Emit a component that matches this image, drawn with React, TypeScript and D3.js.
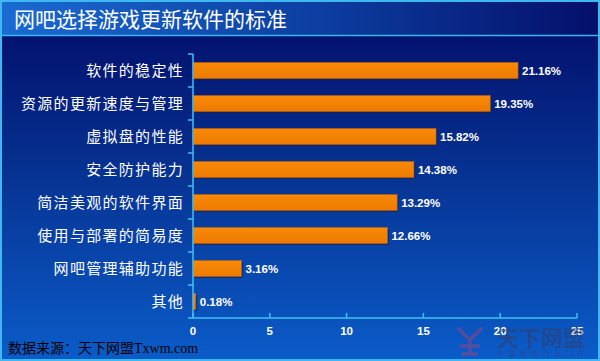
import React from "react";
import * as d3 from "d3";

const categories = [
  "软件的稳定性",
  "资源的更新速度与管理",
  "虚拟盘的性能",
  "安全防护能力",
  "简洁美观的软件界面",
  "使用与部署的简易度",
  "网吧管理辅助功能",
  "其他",
];
const values = [21.16, 19.35, 15.82, 14.38, 13.29, 12.66, 3.16, 0.18];
const xTicks = [0, 5, 10, 15, 20, 25];
const title = "网吧选择游戏更新软件的标准";
const source = "数据来源：天下网盟Txwm.com";

const W = 600;
const H = 361;
const m = { left: 193, right: 577, top: 54, bottom: 318 };

export default function App() {
  const x = d3.scaleLinear().domain([0, 25]).range([m.left, m.right]);
  const y = d3.scaleBand().domain(categories).range([m.top, m.bottom]).paddingInner(0.52).paddingOuter(0.26);
  const band = d3.scaleBand().domain(categories).range([m.top, m.bottom]);
  const bh = y.bandwidth();
  return (
    <svg width={W} height={H} style={{ position: "fixed", left: 0, top: 0 }} xmlns="http://www.w3.org/2000/svg">
      <defs>
        <linearGradient id="bodyG" x1="0" y1="0" x2="0" y2="1">
          <stop offset="0" stopColor="#020a66" />
          <stop offset="0.45" stopColor="#06308f" />
          <stop offset="1" stopColor="#0b5cc9" />
        </linearGradient>
        <linearGradient id="headG" x1="0" y1="0" x2="1" y2="0">
          <stop offset="0" stopColor="#1a6bd2" />
          <stop offset="0.55" stopColor="#0c3c9e" />
          <stop offset="1" stopColor="#050f6a" />
        </linearGradient>
        <linearGradient id="barG" x1="0" y1="0" x2="0" y2="1">
          <stop offset="0" stopColor="#f88a08" />
          <stop offset="1" stopColor="#ec7a00" />
        </linearGradient>
      </defs>
      <rect x={0} y={0} width={W} height={H} fill="url(#bodyG)" />
      <rect x={0} y={0} width={W} height={35} fill="url(#headG)" />
      <line x1={0} x2={W} y1={35.5} y2={35.5} stroke="#3bb6ee" strokeWidth={1.5} />
      <rect x={1} y={1} width={W - 2} height={H - 2} fill="none" stroke="#3fb8f0" strokeWidth={2} />
      <text x={14} y={27} fill="#ffffff" fontSize={21} fontFamily="'Noto Sans CJK SC', sans-serif">{title}</text>

      {categories.map((c, i) => (
        <g key={c}>
          <rect x={x(0) + 1.5} y={(y(c) as number) + 1.5} width={Math.max(x(values[i]) - x(0), 2)} height={bh} fill="#1a1f4a" opacity={0.7} />
          <rect x={x(0)} y={y(c) as number} width={Math.max(x(values[i]) - x(0), 2)} height={bh} fill="url(#barG)" stroke="#c86400" strokeWidth={0.6} />
          <text x={x(values[i]) + 4} y={(y(c) as number) + bh / 2 + 4} fill="#ffffff" fontSize={11.5} fontWeight="bold" fontFamily="'Liberation Sans', Arial, sans-serif">
            {values[i].toFixed(2)}%
          </text>
          <text x={184} y={(y(c) as number) + bh / 2 + 5.5} fill="#ffffff" fontSize={15} letterSpacing={1.3} textAnchor="end" fontFamily="'Noto Sans CJK SC', sans-serif">
            {c}
          </text>
        </g>
      ))}

      {/* y axis */}
      <line x1={m.left} x2={m.left} y1={m.top} y2={m.bottom} stroke="#3fc0f5" strokeWidth={1.5} />
      {[...categories.map((c) => band(c) as number), m.bottom].map((t, i) => (
        <line key={i} x1={m.left - 5} x2={m.left} y1={t} y2={t} stroke="#3fc0f5" strokeWidth={1.5} />
      ))}
      {/* x axis */}
      <line x1={m.left} x2={m.right} y1={m.bottom} y2={m.bottom} stroke="#3fc0f5" strokeWidth={1.5} />
      {xTicks.map((t) => (
        <g key={t}>
          <line x1={x(t)} x2={x(t)} y1={m.bottom - 5} y2={m.bottom} stroke="#3fc0f5" strokeWidth={1.5} />
          <text x={x(t)} y={m.bottom + 17} fill="#ffffff" fontSize={11.5} fontWeight="bold" textAnchor="middle" fontFamily="'Liberation Sans', Arial, sans-serif">{t}</text>
        </g>
      ))}

      {/* watermark */}
      <g opacity={0.45}>
        <path d="M458,328 L470,340 L482,328 M470,340 L470,354 M460,346 L480,346 M462,354 L478,354" stroke="#b04070" strokeWidth={3.5} fill="none" />
        <text x={497} y={346} fill="#3a3a5a" fontSize={22} fontWeight="bold" fontFamily="'Noto Sans CJK SC', sans-serif">天下网盟</text>
        <text x={497} y={356} fill="#3a3a5a" fontSize={6.5} letterSpacing={5} fontFamily="'Noto Sans CJK SC', sans-serif">中国网吧行业门户</text>
      </g>

      <text x={8} y={353} fill="#000000" fontSize={14} fontFamily="'Liberation Serif', 'Noto Sans CJK SC', serif">{source}</text>
    </svg>
  );
}
